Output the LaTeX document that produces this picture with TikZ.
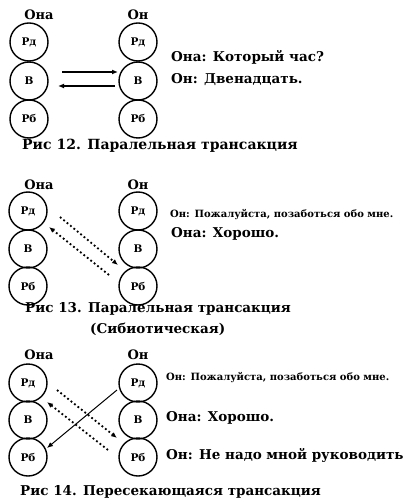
\documentclass[tikz,border=0pt]{standalone}
\usepackage{fontspec}
\setmainfont{DejaVu Serif}
\usetikzlibrary{arrows.meta,calc}
\tikzset{
  ego/.style={draw, circle, line width=1.4pt, minimum size=38pt, inner sep=0pt, font=\bfseries\fontsize{10.5}{10.5}\selectfont},
  who/.style={font=\bfseries\fontsize{13}{13}\selectfont, inner sep=0pt},
  say/.style={anchor=west, font=\bfseries\fontsize{13.5}{13.5}\selectfont, inner sep=0pt},
  smalltext/.style={anchor=west, font=\bfseries\fontsize{10}{10}\selectfont, inner sep=0pt},
  captext/.style={anchor=west, font=\bfseries\fontsize{13.5}{13.5}\selectfont, inner sep=0pt},
  arr/.style={line width=1.4pt, -{Latex[length=6pt,width=5pt]}},
  dotarr/.style={line width=1.8pt, -{Latex[length=6pt,width=5pt]}, dash pattern=on 1.8pt off 2.6pt},
}
\begin{document}
\begin{tikzpicture}[x=1pt,y=-1pt]
\useasboundingbox (0,0) rectangle (403,502);
% ---------- Fig 12
\node[who] (l12) at (39,15) {Она};
\node[who] (r12) at (138,15) {Он};
\node[ego] (a12d) at (29,42) {Рд};
\node[ego] (a12v) at (29,81) {В};
\node[ego] (a12b) at (29,119) {Рб};
\node[ego] (b12d) at (138,42) {Рд};
\node[ego] (b12v) at (138,81) {В};
\node[ego] (b12b) at (138,119) {Рб};
\draw[arr] ($(a12v)+(33,-9)$) -- ($(b12v)+(-20,-9)$);
\draw[arr] ($(b12v)+(-23,5)$) -- ($(a12v)+(29,5)$);
\node[say] (t12a) at (171,57) {Она: Который час?};
\node[say] (t12b) at (171,80) {Он: Двенадцать.};
\node[captext, font=\bfseries\fontsize{14}{14}\selectfont] (c12) at (22,146) {Рис 12. Паралельная трансакция};
% ---------- Fig 13
\node[who] (l13) at (39,185) {Она};
\node[who] (r13) at (138,185) {Он};
\node[ego] (a13d) at (28,211) {Рд};
\node[ego] (a13v) at (28,249) {В};
\node[ego] (a13b) at (28,286) {Рб};
\node[ego] (b13d) at (138,211) {Рд};
\node[ego] (b13v) at (138,249) {В};
\node[ego] (b13b) at (138,286) {Рб};
\draw[dotarr] ($(a13d)+(32,6)$) -- ($(b13b)+(-20,-21)$);
\draw[dotarr] ($(b13b)+(-29,-11)$) -- ($(a13d)+(21,16)$);
\node[smalltext] (t13a) at (170,215) {Он: Пожалуйста, позаботься обо мне.};
\node[say] (t13b) at (171,234) {Она: Хорошо.};
\node[captext] (c13) at (25,309) {Рис 13. Паралельная трансакция};
\node[captext] (c13b) at (90,329) {(Сибиотическая)};
% ---------- Fig 14
\node[who] (l14) at (39,355) {Она};
\node[who] (r14) at (138,355) {Он};
\node[ego] (a14d) at (28,383) {Рд};
\node[ego] (a14v) at (28,420) {В};
\node[ego] (a14b) at (28,457) {Рб};
\node[ego] (b14d) at (138,383) {Рд};
\node[ego] (b14v) at (138,420) {В};
\node[ego] (b14b) at (138,457) {Рб};
\draw[arr, line width=1pt] ($(b14d)+(-21,7)$) -- ($(a14b)+(19,-9)$);
\draw[dotarr] ($(a14d)+(29,7)$) -- ($(b14b)+(-21,-19)$);
\draw[dotarr] ($(b14b)+(-30,-7)$) -- ($(a14v)+(19,-18)$);
\node[smalltext] (t14a) at (166,378) {Он: Пожалуйста, позаботься обо мне.};
\node[say] (t14b) at (166,418) {Она: Хорошо.};
\node[say] (t14c) at (166,455) {Он: Не надо мной руководить};
\node[captext] (c14) at (20,492) {Рис 14. Пересекающаяся трансакция};
\end{tikzpicture}
\end{document}
